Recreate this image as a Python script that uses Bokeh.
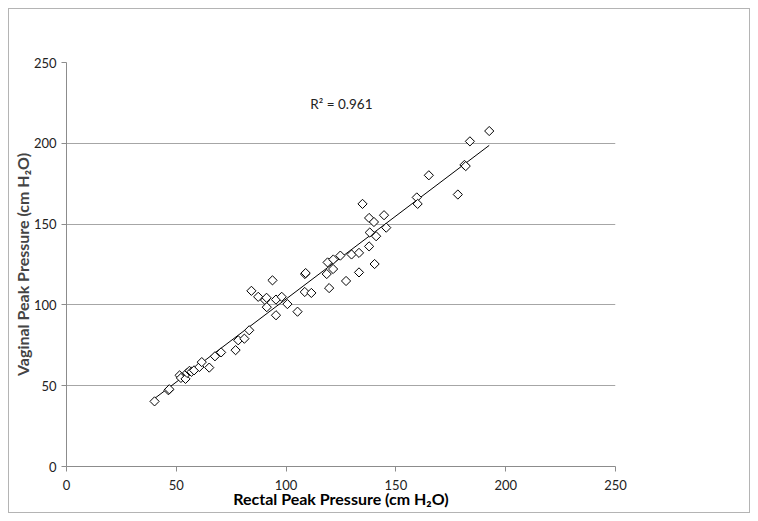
import numpy as np
from bokeh.plotting import figure
from bokeh.models import Range1d, FixedTicker, Label, Title
from bokeh.embed import file_html
from bokeh.resources import INLINE

rectal = [40.1, 46.4, 46.8, 51.5, 52.1, 54.2, 54.9, 56.0, 56.9, 58.1, 60.5, 61.6, 65.0,
          67.6, 70.4, 77.0, 78.2, 81.0, 83.2, 84.2, 87.3, 90.4, 91.1, 91.2, 93.8, 95.4,
          95.4, 98.0, 100.6, 105.2, 108.5, 108.6, 108.9, 111.5, 118.5, 118.9, 119.6, 121.4,
          121.5, 124.7, 127.3, 129.8, 133.2, 133.2, 137.8, 134.8, 137.8, 140.0, 144.6,
          138.1, 141.0, 145.6, 140.3, 159.5, 159.9, 165.0, 178.2, 181.2, 181.8, 183.7, 192.5]
vaginal = [40.3, 47.2, 47.8, 56.4, 54.8, 54.2, 57.9, 59.2, 58.6, 59.5, 61.6, 64.6, 61.2,
           68.2, 70.6, 72.0, 78.1, 79.1, 84.3, 108.7, 105.0, 103.0, 104.4, 98.6, 115.2, 93.6,
           103.3, 105.0, 100.5, 95.8, 108.0, 119.1, 119.7, 107.4, 119.1, 126.3, 110.4, 122.2,
           128.1, 130.5, 114.8, 131.2, 132.2, 120.1, 136.2, 162.5, 153.8, 151.3, 155.5,
           144.8, 142.5, 147.8, 125.3, 166.5, 162.5, 180.2, 168.3, 186.6, 185.9, 201.2, 207.6]
ticks = [0, 50, 100, 150, 200, 250]
r2_text = "R² = 0.961"
x_title = "Rectal Peak Pressure (cm H₂O)"
y_title = "Vaginal Peak Pressure (cm H₂O)"

FONT = "Lato"
GRAY = "#8c8c8c"

p = figure(width=742, height=505, output_backend="svg", toolbar_location=None,
           x_range=Range1d(0, 250), y_range=Range1d(0, 250),
           min_border_left=57, min_border_right=136, min_border_top=53, min_border_bottom=48)
p.styles = {"border": "1px solid #b4b4b4", "box-sizing": "border-box",
            "margin-left": "8px", "margin-top": "8px"}
p.outline_line_color = None
p.background_fill_color = "white"

p.xgrid.grid_line_color = None
p.ygrid.grid_line_color = "#a6a6a6"
p.ygrid.grid_line_width = 1

for ax in (p.xaxis, p.yaxis):
    ax.ticker = FixedTicker(ticks=ticks)
    ax.axis_line_color = GRAY
    ax.major_tick_line_color = GRAY
    ax.major_tick_out = 5
    ax.major_tick_in = 0
    ax.minor_tick_line_color = None
    ax.major_label_text_font = FONT
    ax.major_label_text_font_size = "13px"
    ax.major_label_text_color = "#222222"
p.xaxis.major_label_standoff = 8
p.yaxis.major_label_standoff = 5

p.xaxis.axis_label = x_title
p.xaxis.axis_label_text_font = FONT
p.xaxis.axis_label_text_font_size = "16px"
p.xaxis.axis_label_text_font_style = "bold"
p.xaxis.axis_label_text_color = "black"
p.xaxis.axis_label_standoff = -4

# trend line (least squares)
xs = np.array(rectal)
ys = np.array(vaginal)
m, b = np.polyfit(xs, ys, 1)
lx = np.array([xs.min(), xs.max()])
p.line(lx, m * lx + b, line_color="black", line_width=1)

p.scatter(rectal, vaginal, marker="square", size=6.5, angle=np.pi / 4,
          fill_color="white", line_color="black", line_width=1)

p.add_layout(Label(x=111.0, y=224.6, text=r2_text, text_font=FONT, text_font_size="13.5px",
                   text_baseline="middle", text_align="left", text_color="#222222"))

p.add_layout(Title(text=y_title, align="center", offset=-14, text_font=FONT,
                   text_font_size="16px", text_font_style="bold", standoff=-2), "left")

open("out.html", "w").write(file_html(p, INLINE))
